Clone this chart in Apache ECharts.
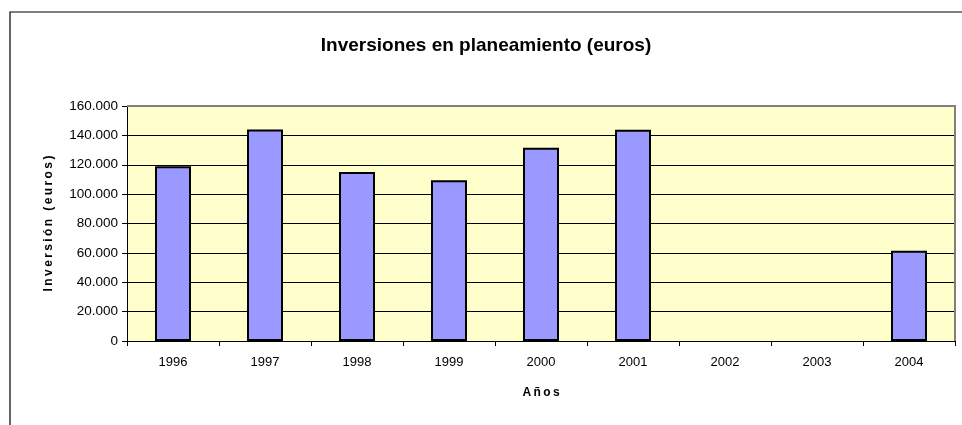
<!DOCTYPE html>
<html>
<head>
<meta charset="utf-8">
<style>
  html, body { margin: 0; padding: 0; background: #fff; }
  #chart { width: 962px; height: 425px; }
</style>
</head>
<body>
<div id="chart"></div>
<script src="https://cdn.jsdelivr.net/npm/echarts@6/dist/echarts.min.js"></script>
<script>
var years = ['1996', '1997', '1998', '1999', '2000', '2001', '2002', '2003', '2004'];
var inversion = [119000, 144000, 115000, 109500, 131500, 143800, null, null, 61500];
var yTicks = [0, 20000, 40000, 60000, 80000, 100000, 120000, 140000, 160000];

function fmt(v) {
  return String(v).replace(/\B(?=(\d{3})+(?!\d))/g, '.');
}
// letterSpacing is not honoured by the canvas text, so pad with thin spaces
function spaced(s, sp) {
  return s.split('').join(sp);
}

var myChart = echarts.init(document.getElementById('chart'));
var option = {
  backgroundColor: '#fff',
  animation: false,
  textStyle: { fontFamily: 'Liberation Sans, Arial, sans-serif' },
  title: {
    text: 'Inversiones en planeamiento (euros)',
    left: 481,
    textAlign: 'center',
    top: 31,
    textStyle: { fontSize: 19, fontWeight: 'bold', color: '#000', fontFamily: 'Liberation Sans, Arial, sans-serif' }
  },
  graphic: [
    // outer frame of the chart area
    { type: 'rect', shape: { x: 10, y: 12, width: 1000, height: 500 },
      style: { fill: 'none', stroke: '#000', lineWidth: 1.2 }, silent: true },
    // grey border on top and right of the plot
    { type: 'polyline', shape: { points: [[127, 106], [955, 106], [955, 341]] },
      style: { stroke: '#808080', lineWidth: 2, fill: 'none' }, z: 5, silent: true }
  ],
  grid: {
    left: 127, top: 106, width: 828, height: 235,
    show: true, backgroundColor: '#FFFFCC', borderWidth: 0
  },
  xAxis: {
    type: 'category',
    data: years,
    name: spaced('Años', '\u2009'),
    nameLocation: 'middle',
    nameGap: 46,
    nameTextStyle: { fontSize: 12, fontWeight: 'bold', color: '#000' },
    axisLine: { lineStyle: { color: '#000', width: 1 } },
    axisTick: { show: true, length: 5, lineStyle: { color: '#000' } },
    axisLabel: { color: '#000', fontSize: 13, margin: 15 }
  },
  yAxis: {
    type: 'value',
    min: 0, max: 160000, interval: 20000,
    name: spaced('Inversión (euros)', '\u2009'),
    nameLocation: 'middle',
    nameGap: 72,
    nameTextStyle: { fontSize: 12, fontWeight: 'bold', color: '#000' },
    axisLine: { show: true, lineStyle: { color: '#000', width: 1 } },
    axisTick: { show: true, length: 5, lineStyle: { color: '#000' } },
    axisLabel: { color: '#000', fontSize: 13.5, margin: 9, formatter: function (v) { return yTicks.indexOf(v) >= 0 ? fmt(v) : ''; } },
    splitLine: { show: true, lineStyle: { color: '#000', width: 1 } }
  },
  series: [{
    type: 'bar',
    data: inversion,
    barWidth: 36,
    itemStyle: { color: '#9999FF', borderColor: '#000', borderWidth: 2 }
  }]
};
myChart.setOption(option);
</script>
</body>
</html>
